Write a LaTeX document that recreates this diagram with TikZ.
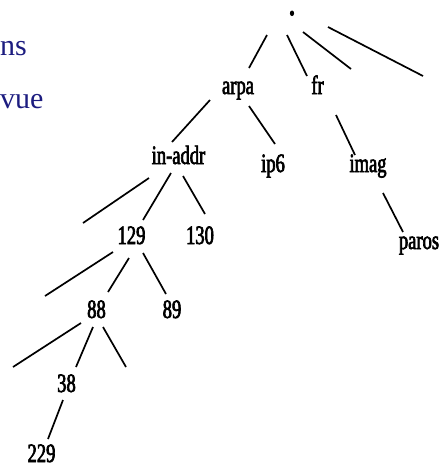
\documentclass[tikz,border=0pt]{standalone}
\usepackage{fontspec}
\setmainfont{Liberation Serif}
\newfontfamily\treefont[FakeStretch=0.7,FakeBold=2.5]{Liberation Serif}
\usetikzlibrary{calc}
\definecolor{navytext}{RGB}{28,28,128}
\tikzset{
  lbl/.style={inner sep=0pt, anchor=base, font=\treefont\fontsize{26.5}{28}\selectfont},
  num/.style={lbl, text depth=0pt},
  edge/.style={line width=1.7pt, black},
  side/.style={inner sep=0pt, anchor=base west, text=navytext, font=\fontsize{30}{32}\selectfont}
}
\begin{document}
\begin{tikzpicture}[x=1pt, y=-1pt]
  \useasboundingbox (0,0) rectangle (441,467);

  % fragments of the running text on the left
  \node[side] (ns)  at (0,55)  {ns};
  \node[side] (vue) at (0,108) {vue};

  % domain name tree
  \node[lbl, font=\treefont\fontsize{38}{40}\selectfont, text height=5pt, text depth=0pt] (root) at (292,15) {.};
  \node[lbl] (arpa)   at (238,94)    {arpa};
  \node[lbl] (fr)     at (317.5,94)  {fr};
  \node[lbl] (ip6)    at (273,172)   {ip6};
  \node[lbl] (imag)   at (368,172)   {imag};
  \node[lbl] (paros)  at (419,249)   {paros};
  \node[lbl] (inaddr) at (178.5,164) {in-addr};
  \node[num] (n129)   at (131.5,244) {129};
  \node[num] (n130)   at (200,244)   {130};
  \node[num] (n88)    at (96.5,318)  {88};
  \node[num] (n89)    at (172,318)   {89};
  \node[num] (n38)    at (66.5,392)  {38};
  \node[num] (n229)   at (41.5,462)  {229};

  % loose ends of branches leading to unnamed subtrees
  \coordinate (f1) at (351,69);
  \coordinate (f2) at (423,76);
  \coordinate (f3) at (83,223);
  \coordinate (f4) at (45,296);
  \coordinate (f5) at (13,367);
  \coordinate (f6) at (126,367);

  % branches
  \draw[edge] ([shift={(-25,20)}]root.base) -- ([shift={(11,-26)}]arpa.base);
  \draw[edge] ([shift={(-5,20)}]root.base) -- ([shift={(-10.5,-18)}]fr.base);
  \draw[edge] ([shift={(11,17)}]root.base) -- (f1);
  \draw[edge] ([shift={(36,12)}]root.base) -- (f2);

  \draw[edge] ([shift={(-28,6)}]arpa.base) -- ([shift={(-6.5,-22)}]inaddr.base);
  \draw[edge] ([shift={(11,12)}]arpa.base) -- ([shift={(2,-28)}]ip6.base);
  \draw[edge] ([shift={(18.5,21)}]fr.base) -- ([shift={(-13,-17)}]imag.base);
  \draw[edge] ([shift={(15,21)}]imag.base) -- ([shift={(-16,-17)}]paros.base);

  \draw[edge] ([shift={(-29.5,14)}]inaddr.base) -- (f3);
  \draw[edge] ([shift={(-7.5,9)}]inaddr.base) -- ([shift={(11.5,-24)}]n129.base);
  \draw[edge] ([shift={(4.5,12)}]inaddr.base) -- ([shift={(5,-30)}]n130.base);

  \draw[edge] ([shift={(-18.5,8)}]n129.base) -- (f4);
  \draw[edge] ([shift={(-2.5,14)}]n129.base) -- ([shift={(11.5,-26)}]n88.base);
  \draw[edge] ([shift={(11.5,9)}]n129.base) -- ([shift={(-6,-24)}]n89.base);

  \draw[edge] ([shift={(-15.5,5)}]n88.base) -- (f5);
  \draw[edge] ([shift={(-3.5,9)}]n88.base) -- ([shift={(9.5,-25)}]n38.base);
  \draw[edge] ([shift={(6.5,9)}]n88.base) -- (f6);

  \draw[edge] ([shift={(-3.5,8)}]n38.base) -- ([shift={(6.5,-23)}]n229.base);
\end{tikzpicture}
\end{document}
